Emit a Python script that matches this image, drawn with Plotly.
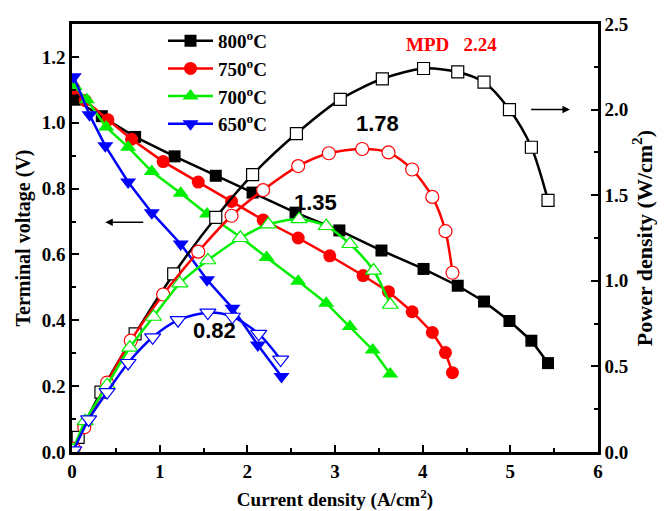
import plotly.graph_objects as go

# ---------------- data ----------------
labels = ["800<sup>o</sup>C", "750<sup>o</sup>C", "700<sup>o</sup>C", "650<sup>o</sup>C"]
colors = ["#000000", "#ff0000", "#00ee00", "#0000ff"]
symbols = ["square", "circle", "triangle-up", "triangle-down"]

i800 = [0.03, 0.34, 0.72, 1.17, 1.64, 2.06, 2.55, 3.05, 3.53, 4.01, 4.40, 4.70, 4.99, 5.24, 5.43]
v800 = [1.07, 1.02, 0.957, 0.898, 0.839, 0.788, 0.727, 0.673, 0.612, 0.556, 0.505, 0.457, 0.398, 0.338, 0.270]
pi800 = [0.00, 0.07, 0.33, 0.72, 1.16, 1.64, 2.06, 2.56, 3.06, 3.54, 4.01, 4.40, 4.70, 4.99, 5.24, 5.43]
p800 = [0.00, 0.086, 0.35, 0.69, 1.04, 1.37, 1.62, 1.86, 2.06, 2.18, 2.24, 2.22, 2.16, 2.00, 1.78, 1.47]

i750 = [0.02, 0.15, 0.41, 0.68, 1.04, 1.44, 1.82, 2.18, 2.58, 2.94, 3.32, 3.61, 3.88, 4.11, 4.26, 4.34]
v750 = [1.105, 1.068, 1.009, 0.950, 0.882, 0.820, 0.761, 0.705, 0.650, 0.596, 0.536, 0.487, 0.426, 0.363, 0.302, 0.241]
pi750 = [0.02, 0.14, 0.40, 0.67, 1.04, 1.44, 1.82, 2.18, 2.58, 2.93, 3.31, 3.61, 3.88, 4.11, 4.26, 4.34]
p750 = [0.02, 0.144, 0.405, 0.65, 0.92, 1.17, 1.38, 1.53, 1.67, 1.745, 1.77, 1.75, 1.65, 1.49, 1.29, 1.047]

i700 = [0.03, 0.17, 0.39, 0.64, 0.91, 1.24, 1.54, 1.92, 2.22, 2.58, 2.90, 3.17, 3.43, 3.63]
v700 = [1.11, 1.07, 0.987, 0.926, 0.852, 0.786, 0.723, 0.653, 0.591, 0.519, 0.452, 0.381, 0.310, 0.237]
pi700 = [0.01, 0.15, 0.40, 0.66, 0.93, 1.23, 1.55, 1.92, 2.24, 2.59, 2.90, 3.17, 3.44, 3.63]
p700 = [0.01, 0.18, 0.39, 0.61, 0.79, 0.985, 1.12, 1.25, 1.33, 1.36, 1.32, 1.215, 1.06, 0.86]

i650 = [0.02, 0.20, 0.38, 0.64, 0.91, 1.24, 1.54, 1.83, 2.12, 2.39]
v650 = [1.14, 1.024, 0.930, 0.820, 0.727, 0.632, 0.523, 0.437, 0.325, 0.229]
pi650 = [0.02, 0.19, 0.40, 0.64, 0.92, 1.21, 1.55, 1.83, 2.13, 2.38]
p650 = [0.01, 0.19, 0.35, 0.52, 0.67, 0.77, 0.814, 0.79, 0.69, 0.54]

peak_labels = ["1.78", "1.35", "0.82"]
peak_pos = [(3.48, 1.92), (2.78, 1.46), (1.62, 0.71)]

fig = go.Figure()

V = [(i800, v800), (i750, v750), (i700, v700), (i650, v650)]
P = [(pi800, p800), (pi750, p750), (pi700, p700), (pi650, p650)]
msize = [12, 13, 14, 14]

for k in range(4):
    fig.add_trace(go.Scatter(
        x=V[k][0], y=V[k][1], mode="lines+markers", name=labels[k],
        legendgroup="g%d" % k,
        line=dict(color=colors[k], width=2.5),
        marker=dict(symbol=symbols[k], size=msize[k], color=colors[k]),
        yaxis="y", showlegend=True))

for k in range(4):
    fig.add_trace(go.Scatter(
        x=P[k][0], y=P[k][1], mode="lines+markers", name=labels[k] + " P",
        legendgroup="g%d" % k,
        line=dict(color=colors[k], width=2.5, shape="spline", smoothing=0.8),
        marker=dict(symbol=symbols[k], size=msize[k], color="white",
                    line=dict(color=colors[k], width=1.2)),
        yaxis="y2", showlegend=False))

tickfont = dict(family="Liberation Serif", size=19, color="black", weight="bold")
xtitlefont = dict(family="Liberation Serif", size=19, color="black", weight="bold")
ytitlefont = dict(family="Liberation Serif", size=20, color="black", weight="bold")
y2titlefont = dict(family="Liberation Serif", size=22, color="black", weight="bold")

# the page body adds an 8px offset; figure sized to sit inside the 666x511 window
fig.update_layout(
    width=658, height=503,
    margin=dict(l=64, r=68, t=16, b=59, autoexpand=False),
    paper_bgcolor="white", plot_bgcolor="white",
    xaxis=dict(range=[0, 6], dtick=1, tick0=0, showgrid=False, zeroline=False, automargin=False,
               showline=True, linecolor="black", linewidth=2.5, mirror=True,
               ticks="inside", ticklen=7, tickwidth=2, tickcolor="black",
               minor=dict(ticks="inside", ticklen=4, dtick=0.5, tickcolor="black", tickwidth=2),
               tickfont=tickfont,
               title=dict(text="Current density (A/cm<sup>2</sup>)", font=xtitlefont, standoff=13)),
    yaxis=dict(range=[0, 1.3], dtick=0.2, tick0=0, tickformat=".1f", showgrid=False, zeroline=False,
               automargin=False,
               showline=True, linecolor="black", linewidth=2.5,
               ticks="inside", ticklen=7, tickwidth=2, tickcolor="black",
               minor=dict(ticks="inside", ticklen=4, dtick=0.1, tickcolor="black", tickwidth=2),
               tickfont=tickfont,
               title=dict(text="Terminal voltage (V)", font=ytitlefont, standoff=6)),
    yaxis2=dict(range=[0, 2.5], dtick=0.5, tick0=0, tickformat=".1f", showgrid=False, zeroline=False,
                overlaying="y", side="right", automargin=False,
                showline=True, linecolor="black", linewidth=2.5,
                ticks="inside", ticklen=7, tickwidth=2, tickcolor="black",
                minor=dict(ticks="inside", ticklen=4, dtick=0.25, tickcolor="black", tickwidth=2),
                tickfont=tickfont,
                title=dict(text="Power density (W/cm<sup>2</sup>)", font=y2titlefont, standoff=8)),
    legend=dict(x=0.173, y=1.005, xanchor="left", yanchor="top",
                bgcolor="rgba(0,0,0,0)", borderwidth=0,
                font=dict(family="Liberation Serif", size=19, color="black", weight="bold"),
                itemwidth=45, tracegroupgap=0),
    showlegend=True,
)

for txt, (xx, yy) in zip(peak_labels, peak_pos):
    fig.add_annotation(x=xx, y=yy, xref="x", yref="y2", text=txt, showarrow=False,
                       font=dict(family="Liberation Sans", size=22, color="black", weight="bold"))

fig.add_annotation(x=4.33, y=2.38, xref="x", yref="y2", text="MPD\u00a0\u00a0\u00a02.24", showarrow=False,
                   font=dict(family="Liberation Serif", size=19, color="red", weight="bold"))

# arrows pointing to respective axes
fig.add_annotation(x=0.38, y=0.698, ax=0.83, ay=0.698, xref="x", yref="y", axref="x", ayref="y",
                   text="", showarrow=True, arrowhead=2, arrowsize=1, arrowwidth=1.5, arrowcolor="black")
fig.add_annotation(x=5.68, y=2.0, ax=5.22, ay=2.0, xref="x", yref="y2", axref="x", ayref="y2",
                   text="", showarrow=True, arrowhead=2, arrowsize=1, arrowwidth=1.5, arrowcolor="black")

fig.write_html("out.html")
